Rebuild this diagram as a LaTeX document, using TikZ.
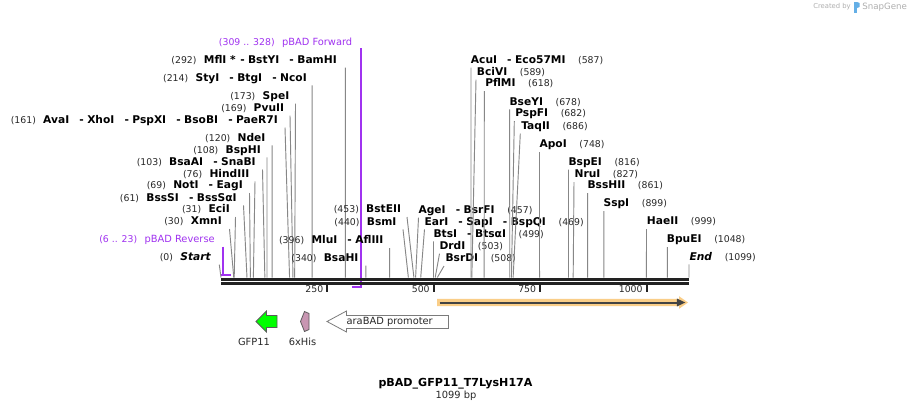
\documentclass[tikz,border=0pt]{standalone}
\usepackage{fontspec}
\setmainfont{DejaVu Sans}
\usetikzlibrary{arrows.meta}
\definecolor{cutc}{RGB}{135,135,135}
\definecolor{numc}{RGB}{40,40,40}
\definecolor{primc}{RGB}{160,50,240}
\definecolor{barc}{RGB}{34,34,34}
\definecolor{tanc}{RGB}{250,206,136}
\definecolor{gfpc}{RGB}{0,255,0}
\definecolor{hisc}{RGB}{200,150,178}
\definecolor{featc}{RGB}{90,90,90}
\definecolor{credc}{RGB}{175,175,175}
\definecolor{logoc}{RGB}{100,175,230}
\newcommand{\nm}[1]{{\fontsize{7}{8}\selectfont\mdseries\upshape\color{numc}#1}}
\newcommand{\pn}[1]{{\fontsize{7}{8}\selectfont #1}}
\newcommand{\dsh}{\hspace{7.6pt}-\hspace{2.6pt}}
\newcommand{\ga}{\hspace{5.5pt}}
\newcommand{\gb}{\hspace{9.5pt}}
\tikzset{
  lab/.style={font=\fontsize{8}{9}\selectfont\bfseries, inner sep=0pt, text height=6pt, text depth=1.6pt},
  plab/.style={font=\fontsize{7.4}{9}\selectfont, text=primc, inner sep=0pt, text height=6pt, text depth=1.6pt},
  cut/.style={cutc, line width=0.7pt},
  prim/.style={primc, line width=1.4pt},
  tick/.style={barc, line width=1.5pt},
  ticklab/.style={font=\fontsize{7}{8}\selectfont, text=numc, inner sep=0pt, anchor=east},
  featlab/.style={font=\fontsize{7.4}{9}\selectfont, text=numc, inner sep=0pt},
  feat/.style={draw=featc, line width=0.6pt, line join=miter}
}
\newcommand{\LCut}[6]{%
  \node[lab,anchor=east] (#1) at (#3,#2) {#6};
  \coordinate (#1t) at (#4,#2+7);
  \coordinate (#1s) at ({221+0.42584*#5},277.5);
  \draw[cut] (#1t) -- (#1s);}
\newcommand{\RCut}[6]{%
  \node[lab,anchor=west] (#1) at (#3,#2) {#6};
  \coordinate (#1t) at (#4,#2+7);
  \coordinate (#1s) at ({221+0.42584*#5},277.5);
  \draw[cut] (#1t) -- (#1s);}
\begin{document}
\begin{tikzpicture}[x=0.75pt,y=-0.75pt]
\useasboundingbox (0,0) rectangle (911,411);
\fill[white] (0,0) rectangle (911,411);

% credit
\node[font=\fontsize{5.1}{6}\selectfont, text=credc, inner sep=0pt, anchor=east] (cred) at (851,7) {Created by};
\fill[logoc] (853.5,2) rectangle (857,12.5);
\fill[logoc] (857,2) -- (859.5,3) -- (859.5,7) -- (857,8) -- cycle;
\node[font=\fontsize{6.5}{8}\selectfont, text=credc, inner sep=0pt, anchor=west] (snap) at (862,7) {SnapGene};

% primers
\node[plab,anchor=east] (pfw) at (352.5,42.7) {\pn{(309 .. 328)}\ga pBAD Forward};
\coordinate (pfwt) at (360.7,48.3);
\coordinate (pfwb) at (360.7,287.3);
\coordinate (pfwe) at (352.3,287.3);
\draw[prim] (pfwt) -- (pfwb) -- (pfwe);
\node[plab,anchor=east] (prv) at (215,240) {\pn{(6 .. 23)}\ga pBAD Reverse};
\coordinate (prvt) at (223.3,246.7);
\coordinate (prvb) at (223.3,274.7);
\coordinate (prvl) at (221.3,274.7);
\coordinate (prvr) at (230.6,274.7);
\draw[prim] (prvt) -- (prvb);
\draw[prim] (prvl) -- (prvr);

% left labels
\LCut{mfl}{60.5}{337}{345.3}{292}{\nm{(292)}\ga MflI *\hspace{3.5pt}-\hspace{2.5pt}BstYI\dsh BamHI}
\LCut{sty}{78.3}{307}{312.1}{214}{\nm{(214)}\ga StyI\dsh BtgI\dsh NcoI}
\LCut{spe}{96.5}{289.5}{295.5}{173}{\nm{(173)}\ga SpeI}
\LCut{pvu}{108.7}{284.3}{290}{169}{\nm{(169)}\ga PvuII}
\LCut{ava}{120.5}{278}{285}{161}{\nm{(161)}\ga AvaI\dsh XhoI\dsh PspXI\dsh BsoBI\dsh PaeR7I}
\LCut{nde}{138.3}{265.7}{272.2}{120}{\nm{(120)}\ga NdeI}
\LCut{bsph}{150.3}{261}{267}{108}{\nm{(108)}\ga BspHI}
\LCut{bsaa}{162.5}{256}{262.5}{103}{\nm{(103)}\ga BsaAI\dsh SnaBI}
\LCut{hind}{174.3}{249.5}{255}{76}{\nm{(76)}\ga HindIII}
\LCut{not}{186}{243}{249.5}{69}{\nm{(69)}\ga NotI\dsh EagI}
\LCut{bsss}{198.3}{237}{243.5}{61}{\nm{(61)}\ga BssSI\dsh BssSαI}
\LCut{eci}{210}{230}{235.5}{31}{\nm{(31)}\ga EciI}
\LCut{xmn}{222}{222}{229.5}{30}{\nm{(30)}\ga XmnI}
\LCut{start}{257.7}{211}{219.3}{0}{\nm{(0)}\ga\itshape Start}

% middle left labels
\LCut{bste}{210}{401.3}{407}{453}{\nm{(453)}\ga BstEII}
\LCut{bsm}{222.3}{396.7}{403}{440}{\nm{(440)}\ga BsmI}
\LCut{mlu}{241}{383.7}{389.6}{396}{\nm{(396)}\ga MluI\dsh AflIII}
\LCut{bsah}{258.7}{358.7}{365.8}{340}{\nm{(340)}\ga BsaHI}

% middle right labels
\RCut{age}{210.7}{418.3}{418.5}{457}{AgeI\dsh BsrFI\gb\nm{(457)}}
\RCut{ear}{222.3}{424.3}{424.5}{469}{EarI\dsh SapI\dsh BspQI\gb\nm{(469)}}
\RCut{bts}{234.3}{433.3}{433.5}{499}{BtsI\dsh BtsαI\gb\nm{(499)}}
\RCut{drd}{246.7}{439.3}{439.5}{503}{DrdI\gb\nm{(503)}}
\RCut{bsrd}{259}{445.3}{444}{508}{BsrDI\gb\nm{(508)}}

% upper right labels
\RCut{acu}{60.7}{470.7}{471}{587}{AcuI\dsh Eco57MI\gb\nm{(587)}}
\RCut{bciv}{72.7}{476.7}{476}{589}{BciVI\gb\nm{(589)}}
\RCut{pflm}{84}{485}{484.3}{618}{PflMI\gb\nm{(618)}}
\RCut{bsey}{102.3}{509.3}{509.7}{678}{BseYI\gb\nm{(678)}}
\RCut{pspf}{114}{515}{514.3}{682}{PspFI\gb\nm{(682)}}
\RCut{taq}{126.7}{521}{520.3}{686}{TaqII\gb\nm{(686)}}
\RCut{apo}{145}{539.3}{539.5}{748}{ApoI\gb\nm{(748)}}
\RCut{bspe}{162.7}{568.3}{568.5}{816}{BspEI\gb\nm{(816)}}
\RCut{nru}{175}{574.3}{574}{827}{NruI\gb\nm{(827)}}
\RCut{bssh}{186}{587.3}{587.7}{861}{BssHII\gb\nm{(861)}}
\RCut{ssp}{204}{603.3}{603.8}{899}{SspI\gb\nm{(899)}}
\RCut{hae}{222}{646.7}{646.5}{999}{HaeII\gb\nm{(999)}}
\RCut{bpue}{240}{666.7}{667.3}{1048}{BpuEI\gb\nm{(1048)}}
\RCut{endl}{257.3}{689.3}{689}{1099}{\itshape End\gb\nm{(1099)}}

% sequence bar
\coordinate (b1l) at (221,279.2); \coordinate (b1r) at (689,279.2);
\coordinate (b2l) at (221,283.4); \coordinate (b2r) at (689,283.4);
\draw[barc, line width=2.25pt] (b1l) -- (b1r);
\draw[barc, line width=2pt] (b2l) -- (b2r);

% ticks
\foreach \v/\n in {250/t250,500/t500,750/t750,1000/t1000}{
  \coordinate (\n a) at ({221+0.42584*\v},285);
  \coordinate (\n b) at ({221+0.42584*\v},291.5);
  \draw[tick] (\n a) -- (\n b);
  \node[ticklab] (\n l) at ({221+0.42584*\v-4},289.5) {\v};
}

% tan feature
\fill[tanc] (437,298.8) -- (679,298.8) -- (679,296.2) -- (688,302.5) -- (679,308.8) -- (679,306.2) -- (437,306.2) -- cycle;
\coordinate (fs) at (439.5,302.5); \coordinate (fe) at (685.5,302.5);
\draw[barc!85, line width=1.5pt, -{Triangle[length=6.5pt,width=5.5pt]}] (fs) -- (fe);

% GFP11
\draw[feat, fill=gfpc] (256,321.5) -- (266.5,311) -- (266.5,315.5) -- (277,315.5) -- (277,327.5) -- (266.5,327.5) -- (266.5,332) -- cycle;
\node[featlab] (gfpl) at (254,341.5) {GFP11};
% 6xHis
\draw[feat, fill=hisc] (300.5,321.5) -- (304.5,311.5) -- (309,313.5) -- (309,329.5) -- (304.5,331.5) -- cycle;
\node[featlab] (hisl) at (302.5,341.5) {6xHis};
% araBAD promoter
\draw[feat, draw=featc!80, fill=white] (327,321.5) -- (346.5,311) -- (346.5,315.5) -- (448.5,315.5) -- (448.5,328.5) -- (346.5,328.5) -- (346.5,332) -- cycle;
\node[featlab] (aral) at (389.7,321.5) {araBAD promoter};

% title
\node[font=\fontsize{8.3}{10}\selectfont\bfseries, inner sep=0pt] (title) at (455.5,384) {pBAD\_GFP11\_T7LysH17A};
\node[featlab] (bp) at (456,395.5) {1099 bp};
\end{tikzpicture}
\end{document}
